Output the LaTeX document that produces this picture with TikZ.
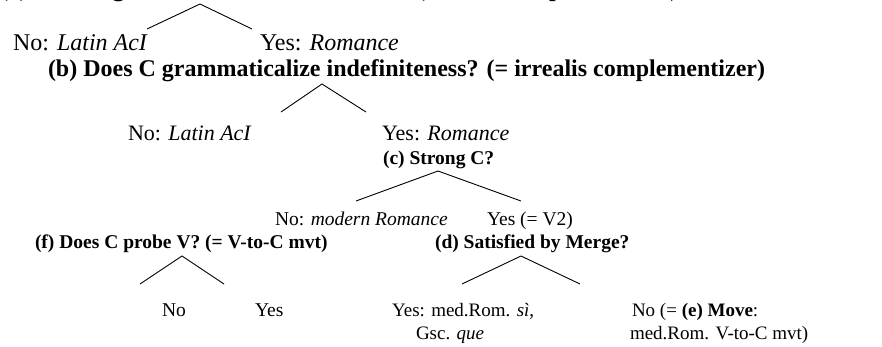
\documentclass[tikz,border=0pt]{standalone}
\usepackage{fontspec}
\setmainfont{Liberation Serif}
\begin{document}
\begin{tikzpicture}[x=1pt,y=-1pt,
  lbl/.style={anchor=base west, inner sep=0pt, outer sep=0pt, font=\fontsize{24}{28}\selectfont},
  lblm/.style={lbl, font=\fontsize{22}{26}\selectfont},
  lbls/.style={lbl, font=\fontsize{19.5}{23}\selectfont},
  lblx/.style={lbl, font=\fontsize{19}{22}\selectfont},
  branch/.style={line width=0.9pt, line join=miter}]
\useasboundingbox (0,0) rectangle (882,346);
\begin{scope}
\clip (0,0) rectangle (882,346);
\node[lbl] (qa) at (0,-4) {\textbf{(a) Does C grammaticalize definiteness? (= realis complementizer)}};
\end{scope}
% row 1
\node[lbl] (a-no) at (13,50) {No: \textit{Latin AcI}};
\node[lbl] (a-yes) at (260,50) {Yes: \textit{Romance}};
% (b)
\node[lbl] (qb) at (48,76) {\textbf{(b) Does C grammaticalize indefiniteness? (= irrealis complementizer)}};
\node[lblm] (b-no) at (128,140) {No: \textit{Latin AcI}};
\node[lblm] (b-yes) at (382,140) {Yes: \textit{Romance}};
% (c)
\node[lbls] (qc) at (383,164) {\textbf{(c) Strong C?}};
\node[lbls] (c-no) at (275,225) {No: \textit{modern Romance}};
\node[lbls] (c-yes) at (487,225) {Yes (= V2)};
% (f) and (d)
\node[lbls] (qf) at (35,248) {\textbf{(f) Does C probe V? (= V-to-C mvt)}};
\node[lbls] (qd) at (435,248) {\textbf{(d) Satisfied by Merge?}};
\node[lbls] (f-no) at (162,316) {No};
\node[lbls] (f-yes) at (255,316) {Yes};
\node[lblx] (d-yes) at (392,316) {Yes: med.Rom. \textit{sì},};
\node[lblx] (d-yes2) at (416,339) {Gsc. \textit{que}};
\node[lblx] (d-no) at (632,316) {No (= \textbf{(e)} \textbf{Move}:};
\node[lblx] (d-no2) at (630,339) {med.Rom. V-to-C mvt)};
% branch points
\coordinate (apA) at (200,4);   \coordinate (lA) at (147,29);  \coordinate (rA) at (252,29);
\coordinate (apB) at (322,84);  \coordinate (lB) at (281,112); \coordinate (rB) at (366,112);
\coordinate (apC) at (438,171); \coordinate (lC) at (356,201); \coordinate (rC) at (521,201);
\coordinate (apF) at (182,256); \coordinate (lF) at (140,284); \coordinate (rF) at (224,284);
\coordinate (apD) at (521,256); \coordinate (lD) at (462,284); \coordinate (rD) at (580,284);
\draw[branch] (lA) -- (apA) -- (rA);
\draw[branch] (lB) -- (apB) -- (rB);
\draw[branch] (lC) -- (apC) -- (rC);
\draw[branch] (lF) -- (apF) -- (rF);
\draw[branch] (lD) -- (apD) -- (rD);
\end{tikzpicture}
\end{document}
